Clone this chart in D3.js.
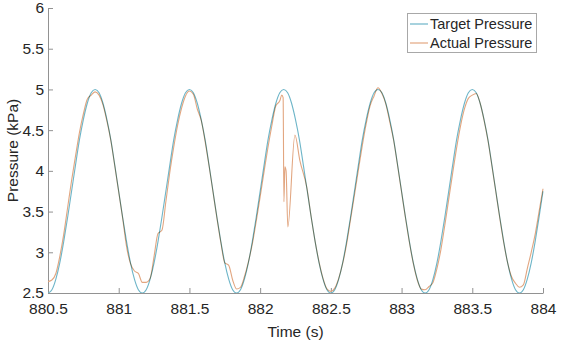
<!DOCTYPE html>
<html>
<head>
<meta charset="utf-8">
<script src="https://cdn.jsdelivr.net/npm/d3@7"></script>
<style>
  html, body { margin: 0; padding: 0; background: #fff; }
  svg { display: block; }
  text { font-family: "Liberation Sans", Arial, sans-serif; fill: #262626; }
</style>
</head>
<body>
<svg id="chart" width="561" height="342"></svg>
<script>
// ---- data ----
const startTime = 880.5;          // time of sample 0 (s)
const sampleRate = 36;            // samples per second (sample index -> time)
const xTicks = [880.5, 881, 881.5, 882, 882.5, 883, 883.5, 884];
const yTicks = [2.5, 3, 3.5, 4, 4.5, 5, 5.5, 6];
const xTickLabels = ["880.5", "881", "881.5", "882", "882.5", "883", "883.5", "884"];
const yTickLabels = ["2.5", "3", "3.5", "4", "4.5", "5", "5.5", "6"];
const seriesNames = ["Target Pressure", "Actual Pressure"];

const targetIndex = d3.range(0, 127);
const targetValue = [
  2.50, 2.54, 2.67, 2.87, 3.13, 3.43, 3.75, 4.07, 4.38, 4.63, 4.83, 4.96, 5.00, 4.96, 4.83, 4.63, 4.38, 4.07, 3.75, 3.43, 3.13, 2.87, 2.67, 2.54,
  2.50, 2.54, 2.67, 2.87, 3.13, 3.43, 3.75, 4.07, 4.38, 4.63, 4.83, 4.96, 5.00, 4.96, 4.83, 4.63, 4.38, 4.07, 3.75, 3.43, 3.13, 2.87, 2.67, 2.54,
  2.50, 2.54, 2.67, 2.87, 3.13, 3.43, 3.75, 4.07, 4.38, 4.63, 4.83, 4.96, 5.00, 4.96, 4.83, 4.63, 4.38, 4.07, 3.75, 3.43, 3.13, 2.87, 2.67, 2.54,
  2.50, 2.54, 2.67, 2.87, 3.13, 3.43, 3.75, 4.07, 4.38, 4.63, 4.83, 4.96, 5.00, 4.96, 4.83, 4.63, 4.38, 4.07, 3.75, 3.43, 3.13, 2.87, 2.67, 2.54,
  2.50, 2.54, 2.67, 2.87, 3.13, 3.43, 3.75, 4.07, 4.38, 4.63, 4.83, 4.96, 5.00, 4.96, 4.83, 4.63, 4.38, 4.07, 3.75, 3.43, 3.13, 2.87, 2.67, 2.54,
  2.50, 2.54, 2.67, 2.87, 3.13, 3.43, 3.75
];

const actualIndex = [
  0, 1, 2, 3, 4, 5, 6, 7, 8, 9, 10, 11, 12, 13, 14, 15, 16, 17, 18, 19, 20, 21, 22, 23,
  24, 25, 26, 27, 28, 29, 30, 31, 32, 33, 34, 35, 36, 37, 38, 39, 40, 41, 42, 43, 44, 45, 46, 47,
  48, 49, 50, 51, 52, 53, 54, 55, 56, 57, 58, 59, 59.5, 59.85, 60.05, 60.3, 60.6, 61.05, 62.85, 64.1, 65.9,
  67, 68, 69, 70, 71, 72, 73, 74, 75, 76, 77, 78, 79, 80, 81, 82, 83,
  84, 85, 86, 87, 88, 89, 90, 91, 92, 93, 94, 95, 96, 97, 98, 99, 100, 101, 102, 103, 104, 105, 106, 107,
  108, 109, 110, 111, 112, 113, 114, 115, 116, 117, 118, 119, 120, 121, 122, 123, 124, 125, 126
];
const actualValue = [
  2.64, 2.66, 2.74, 2.95, 3.22, 3.55, 3.88, 4.18, 4.47, 4.70, 4.88, 4.93, 4.97, 4.93, 4.81, 4.61, 4.37, 4.06, 3.74, 3.42, 3.07, 2.86, 2.77, 2.74,
  2.63, 2.63, 2.68, 2.95, 3.23, 3.27, 3.62, 3.98, 4.29, 4.56, 4.77, 4.92, 4.98, 4.94, 4.76, 4.62, 4.36, 4.06, 3.74, 3.42, 3.12, 2.87, 2.84, 2.66,
  2.55, 2.57, 2.70, 2.88, 3.10, 3.38, 3.68, 3.99, 4.29, 4.56, 4.80, 4.86, 4.93, 4.90, 3.62, 4.05, 4.00, 3.31, 4.44, 4.13, 3.79,
  3.43, 3.13, 2.88, 2.68, 2.55, 2.52, 2.56, 2.68, 2.86, 3.10, 3.40, 3.70, 4.01, 4.31, 4.58, 4.80, 4.92,
  5.02, 4.95, 4.82, 4.60, 4.37, 4.06, 3.74, 3.42, 3.12, 2.86, 2.66, 2.55, 2.54, 2.58, 2.63, 2.80, 3.03, 3.33, 3.65, 3.97, 4.28, 4.55, 4.76, 4.89,
  4.93, 4.95, 4.83, 4.62, 4.37, 4.06, 3.74, 3.42, 3.12, 2.87, 2.70, 2.62, 2.57, 2.60, 2.80, 3.00, 3.22, 3.50, 3.78
];

// ---- layout ----
const svg = d3.select("#chart");
const L = 48, R = 543, T = 8, B = 293;
const x = d3.scaleLinear().domain([880.5, 884]).range([L, R]);
const y = d3.scaleLinear().domain([2.5, 6]).range([B, T]);
const toTime = i => startTime + i / sampleRate;

const axisColor = "#929292";
const targetColor = "#6db5c8";
const actualColor = "#e2a680";

// bottom axis
const xAxis = d3.axisBottom(x).tickValues(xTicks).tickSizeInner(-5).tickSizeOuter(0)
  .tickPadding(10).tickFormat((d, i) => xTickLabels[i]);
const gx = svg.append("g").attr("transform", `translate(0,${B})`).call(xAxis);
gx.select(".domain").attr("stroke", axisColor);
gx.selectAll(".tick line").attr("stroke", axisColor);
gx.selectAll(".tick text").style("font-size", "15.5px").attr("fill", "#262626")
  .attr("font-family", "Liberation Sans, Arial, sans-serif");

// left axis
const yAxis = d3.axisLeft(y).tickValues(yTicks).tickSizeInner(-5).tickSizeOuter(0)
  .tickPadding(4).tickFormat((d, i) => yTickLabels[i]);
const gy = svg.append("g").attr("transform", `translate(${L},0)`).call(yAxis);
gy.select(".domain").attr("stroke", axisColor);
gy.selectAll(".tick line").attr("stroke", axisColor);
gy.selectAll(".tick text").style("font-size", "15.5px").attr("fill", "#262626")
  .attr("font-family", "Liberation Sans, Arial, sans-serif");

// axis titles
svg.append("text").attr("x", (L + R) / 2).attr("y", 337).attr("text-anchor", "middle")
  .style("font-size", "15.5px").text("Time (s)");
svg.append("text").attr("transform", `translate(18,${(T + B) / 2}) rotate(-90)`)
  .attr("text-anchor", "middle").style("font-size", "15.5px").text("Pressure (kPa)");

// lines
svg.append("clipPath").attr("id", "clip").append("rect")
  .attr("x", L).attr("y", T - 2).attr("width", R - L + 1).attr("height", B - T + 2);

const targetData = targetIndex.map((i, k) => ({ t: toTime(i), v: targetValue[k] }));
const actualData = actualIndex.map((i, k) => ({ t: toTime(i), v: actualValue[k] }));

const lineT = d3.line().x(d => x(d.t)).y(d => y(d.v)).curve(d3.curveNatural);
const lineA = d3.line().x(d => x(d.t)).y(d => y(d.v)).curve(d3.curveMonotoneX);

const plot = svg.append("g").attr("clip-path", "url(#clip)");
plot.append("path").datum(targetData).attr("d", lineT)
  .attr("fill", "none").attr("stroke", targetColor).attr("stroke-width", 1.1);
plot.append("path").datum(actualData).attr("d", lineA)
  .attr("fill", "none").attr("stroke", actualColor).attr("stroke-width", 1.1)
  .style("mix-blend-mode", "multiply");

// legend
const lg = svg.append("g");
lg.append("rect").attr("x", 407.5).attr("y", 13.5).attr("width", 129).attr("height", 39)
  .attr("fill", "#fff").attr("stroke", "#a8a8a8").attr("stroke-width", 1);
[targetColor, actualColor].forEach((c, i) => {
  const yy = 24 + i * 19;
  lg.append("line").attr("x1", 410).attr("x2", 428).attr("y1", yy).attr("y2", yy)
    .attr("stroke", c).attr("stroke-width", 1.2);
  lg.append("text").attr("x", 430).attr("y", yy + 5).style("font-size", "14.5px").text(seriesNames[i]);
});
</script>
</body>
</html>
